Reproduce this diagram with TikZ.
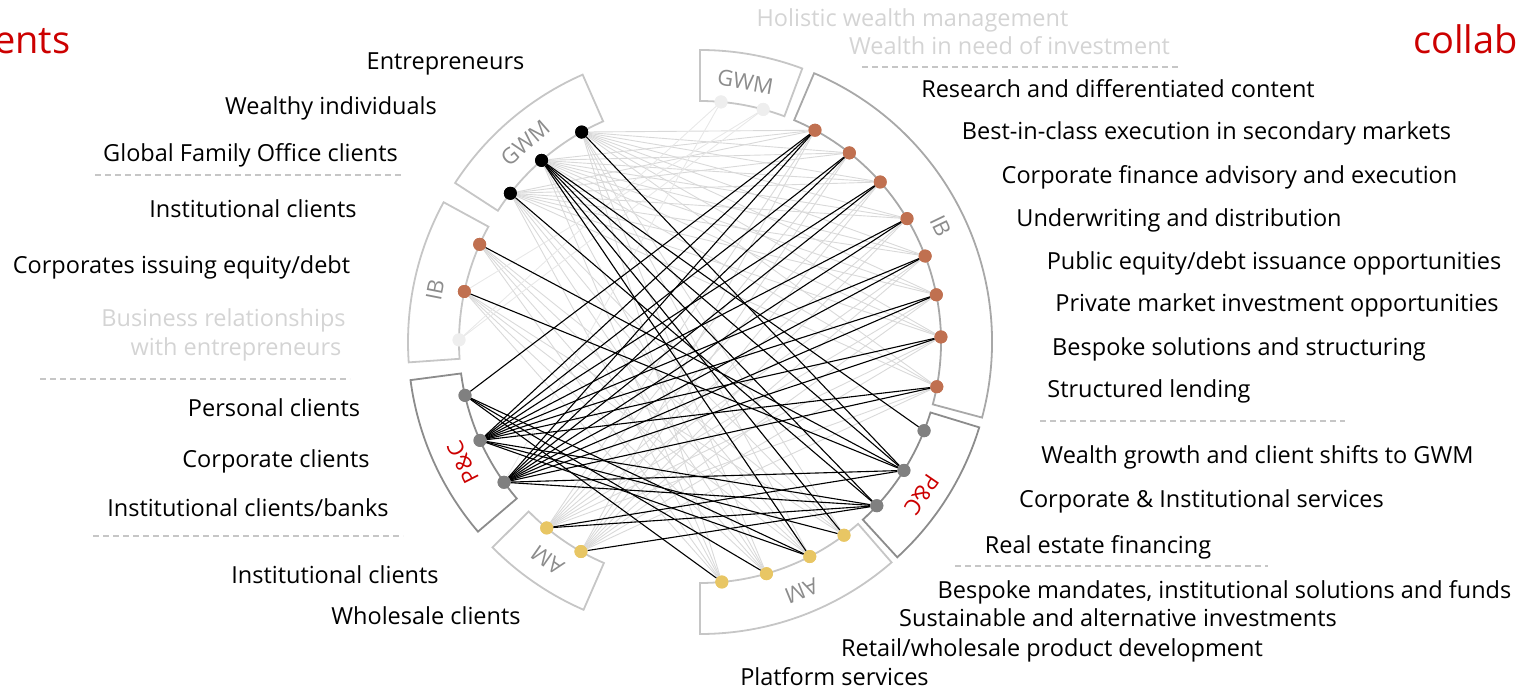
\documentclass[tikz,border=0pt]{standalone}
\usepackage{fontspec}
\setmainfont{Open Sans}
\usepackage{xcolor}
\usepackage{tikz}

\definecolor{ubsred}{HTML}{CC0000}
\definecolor{ibcol}{RGB}{192,112,80}
\definecolor{amcol}{RGB}{232,198,100}
\definecolor{pccol}{HTML}{808080}
\definecolor{fadecol}{HTML}{EEEEEE}
\definecolor{linkgray}{HTML}{D9D9D9}
\definecolor{linkfade}{HTML}{E8E8E8}
\definecolor{labelgray}{HTML}{8C8C8C}
\definecolor{fadetext}{HTML}{D4D4D4}
\definecolor{boxlight}{HTML}{C6C6C6}
\definecolor{boxmid}{HTML}{A8A8A8}
\definecolor{boxdark}{HTML}{8C8C8C}

\tikzset{
	dot/.style={circle, inner sep=0pt, minimum size=13pt},
	gwmdot/.style={dot, fill=black},
	ibdot/.style={dot, fill=ibcol},
	pcdot/.style={dot, fill=pccol},
	amdot/.style={dot, fill=amcol},
	fadedot/.style={dot, fill=fadecol},
	lbl/.style={anchor=base, inner sep=0pt, font=\fontsize{23.5}{28}\selectfont},
	fadelbl/.style={lbl, text=fadetext},
	headlbl/.style={anchor=base west, inner sep=0pt, text=ubsred, font=\fontsize{38}{44}\selectfont},
	boxlbl/.style={inner sep=0pt, text=labelgray, font=\fontsize{22}{26}\selectfont},
	seg/.style={line width=1.8pt, line join=miter},
	sep/.style={draw=boxlight, line width=1.3pt, dash pattern=on 6pt off 4pt},
	lnk/.style={draw=linkgray, line width=0.9pt},
	lnkfade/.style={draw=linkfade, line width=0.9pt},
	blk/.style={draw=black, line width=1.1pt}
}

\begin{document}
\begin{tikzpicture}[x=1pt, y=1pt]
	\useasboundingbox (0,0) rectangle (1523,689);

	%Headings
	\node[headlbl] (headl) at (-6,635) {ents};
	\node[headlbl] (headr) at (1413,635) {collab};

	\begin{scope}[shift={(700,347)}]
		%Segments
		\draw[seg, draw=boxlight] (113.7:241) -- (113.7:292) arc[start angle=113.7, end angle=147, radius=292] -- (147:241) arc[start angle=147, end angle=113.7, radius=241] -- cycle;
		\draw[seg, draw=boxlight] (151.4:241) -- (151.4:292) arc[start angle=151.4, end angle=184, radius=292] -- (184:241) arc[start angle=184, end angle=151.4, radius=241] -- cycle;
		\draw[seg, draw=boxdark] (187.5:241) -- (187.5:292) arc[start angle=187.5, end angle=220.5, radius=292] -- (220.5:241) arc[start angle=220.5, end angle=187.5, radius=241] -- cycle;
		\draw[seg, draw=boxlight] (224.7:241) -- (224.7:292) arc[start angle=224.7, end angle=246.5, radius=292] -- (246.5:241) arc[start angle=246.5, end angle=224.7, radius=241] -- cycle;
		\draw[seg, draw=boxlight] (270:241) -- (270:292) arc[start angle=270, end angle=311, radius=292] -- (311:241) arc[start angle=311, end angle=270, radius=241] -- cycle;
		\draw[seg, draw=boxdark] (312.5:241) -- (312.5:292) arc[start angle=312.5, end angle=343, radius=292] -- (343:241) arc[start angle=343, end angle=312.5, radius=241] -- cycle;
		\draw[seg, draw=boxmid] (-15:241) -- (-15:292) arc[start angle=-15, end angle=67, radius=292] -- (67:241) arc[start angle=67, end angle=-15, radius=241] -- cycle;
		\draw[seg, draw=boxlight] (69.5:241) -- (69.5:292) arc[start angle=69.5, end angle=90, radius=292] -- (90:241) arc[start angle=90, end angle=69.5, radius=241] -- cycle;

		%Segment names
		\node[boxlbl, rotate=41.3] (ngwml) at (131.3:265) {GWM};
		\node[boxlbl, rotate=78.9] (nibl) at (168.9:270) {IB};
		\node[boxlbl, rotate=116.9, text=ubsred] (npcl) at (206.9:266) {P\&C};
		\node[boxlbl, rotate=145] (naml) at (235:266) {AM};
		\node[boxlbl, rotate=202.2] (namr) at (292.2:269) {AM};
		\node[boxlbl, rotate=235.5, text=ubsred] (npcr) at (325.5:269) {P\&C};
		\node[boxlbl, rotate=-64.3] (nibr) at (25.7:267) {IB};
		\node[boxlbl, rotate=-9.9] (ngwmr) at (80.1:264) {GWM};

		%Dots left
		\node[gwmdot] (lg1) at (119.4:241) {};
		\node[gwmdot] (lg2) at (131.1:241) {};
		\node[gwmdot] (lg3) at (141.9:241) {};
		\node[ibdot] (li1) at (156.1:241) {};
		\node[ibdot] (li2) at (167.9:241) {};
		\node[fadedot] (li3) at (179.5:241) {};
		\node[pcdot] (lp1) at (192.8:241) {};
		\node[pcdot] (lp2) at (204.1:241) {};
		\node[pcdot] (lp3) at (215.6:241) {};
		\node[amdot] (la1) at (230.5:241) {};
		\node[amdot] (la2) at (240.4:241) {};

		%Dots right
		\node[fadedot] (rg1) at (85:241) {};
		\node[fadedot] (rg2) at (74.8:241) {};
		\node[ibdot] (ri1) at (61.5:241) {};
		\node[ibdot] (ri2) at (51.7:241) {};
		\node[ibdot] (ri3) at (41.6:241) {};
		\node[ibdot] (ri4) at (30.8:241) {};
		\node[ibdot] (ri5) at (20.9:241) {};
		\node[ibdot] (ri6) at (11.3:241) {};
		\node[ibdot] (ri7) at (1.2:241) {};
		\node[ibdot] (ri8) at (-10.7:241) {};
		\node[pcdot] (rp1) at (-21.6:241) {};
		\node[pcdot] (rp2) at (-32.2:241) {};
		\node[pcdot] (rp3) at (-42.8:241) {};
		\node[amdot] (ra1) at (-53.3:241) {};
		\node[amdot] (ra2) at (-62.9:241) {};
		\node[amdot] (ra3) at (-74:241) {};
		\node[amdot] (ra4) at (-84.8:241) {};
	\end{scope}

	%Grey links
	\foreach \g in {1,2,3} {
		\foreach \i in {1,...,8} \draw[lnk] (lg\g) -- (ri\i);
		\foreach \i in {1,...,4} \draw[lnk] (lg\g) -- (ra\i);
	}
	\foreach \g in {1,2} {
		\foreach \i in {1,...,8} \draw[lnk] (la\g) -- (ri\i);
		\foreach \i in {1,...,4} \draw[lnk] (li\g) -- (ra\i);
	}
	\foreach \a/\b in {rg1/lp3, rg2/li2, li3/rg1, li3/rg2}
		\draw[lnkfade] (\a) -- (\b);

	%Black links
	\foreach \i in {1,...,8} {
		\draw[blk] (lp2) -- (ri\i);
		\draw[blk] (lp3) -- (ri\i);
	}
	\foreach \a/\b in {lg1/rp2, lg2/ra2, lg2/ra1, lg2/rp3, lg2/rp2, lg2/rp1, lg3/rp3, li1/rp2, li2/rp2, lp1/ri1, lp1/ra4, lp1/ra3, lp1/ra2, lp2/ra2, lp2/ra1, lp2/rp3, lp3/rp2, lp3/rp3, la1/rp2, la1/rp3, la2/rp3}
		\draw[blk] (\a) -- (\b);

	%Dots again on top
	\foreach \n/\s in {lg1/black, lg2/black, lg3/black, li1/ibcol, li2/ibcol, li3/fadecol, lp1/pccol, lp2/pccol, lp3/pccol, la1/amcol, la2/amcol, rg1/fadecol, rg2/fadecol, rp1/pccol, rp2/pccol, rp3/pccol, ra1/amcol, ra2/amcol, ra3/amcol, ra4/amcol}
		\fill[\s] (\n.center) circle (6.5pt);
	\foreach \i in {1,...,8}
		\fill[ibcol] (ri\i.center) circle (6.5pt);

	%Clients
	\node[lbl] (tl1) at (445.5,619.5) {Entrepreneurs};
	\node[lbl] (tl2) at (331,574.5) {Wealthy individuals};
	\node[lbl] (tl3) at (250.5,527.5) {Global Family Office clients};
	\draw[sep] (95,514) -- (403,514);
	\node[lbl] (tl4) at (253,471.5) {Institutional clients};
	\node[lbl] (tl5) at (181.5,415.5) {Corporates issuing equity/debt};
	\node[fadelbl] (tl6) at (223.5,362.5) {Business relationships};
	\node[fadelbl] (tl7) at (236,333.5) {with entrepreneurs};
	\draw[sep] (40,310) -- (350,310);
	\node[lbl] (tl8) at (274,272.5) {Personal clients};
	\node[lbl] (tl9) at (276,221.5) {Corporate clients};
	\node[lbl] (tl10) at (248,172.5) {Institutional clients/banks};
	\draw[sep] (93,153) -- (403,153);
	\node[lbl] (tl11) at (335,105.5) {Institutional clients};
	\node[lbl] (tl12) at (426,64.5) {Wholesale clients};

	%Offerings
	\node[fadelbl] (tr1) at (912.5,662.5) {Holistic wealth management};
	\node[fadelbl] (tr2) at (1009.5,634.5) {Wealth in need of investment};
	\draw[sep] (862,622) -- (1180,622);
	\node[lbl] (tr3) at (1118,591.5) {Research and differentiated content};
	\node[lbl] (tr4) at (1206.5,549.5) {Best-in-class execution in secondary markets};
	\node[lbl] (tr5) at (1229.5,505.5) {Corporate finance advisory and execution};
	\node[lbl] (tr6) at (1179,462.5) {Underwriting and distribution};
	\node[lbl] (tr7) at (1274,419.5) {Public equity/debt issuance opportunities};
	\node[lbl] (tr8) at (1277,377.5) {Private market investment opportunities};
	\node[lbl] (tr9) at (1239,333.5) {Bespoke solutions and structuring};
	\node[lbl] (tr10) at (1149,291.5) {Structured lending};
	\draw[sep] (1040,268) -- (1345,268);
	\node[lbl] (tr11) at (1257.5,225.5) {Wealth growth and client shifts to GWM};
	\node[lbl] (tr12) at (1201.5,181.5) {Corporate \& Institutional services};
	\node[lbl] (tr13) at (1098,135.5) {Real estate financing};
	\draw[sep] (955,123) -- (1268,123);
	\node[lbl] (tr14) at (1224.5,90.5) {Bespoke mandates, institutional solutions and funds};
	\node[lbl] (tr15) at (1118,62.5) {Sustainable and alternative investments};
	\node[lbl] (tr16) at (1052,32.5) {Retail/wholesale product development};
	\node[lbl] (tr17) at (834.5,4) {Platform services};
\end{tikzpicture}
\end{document}
